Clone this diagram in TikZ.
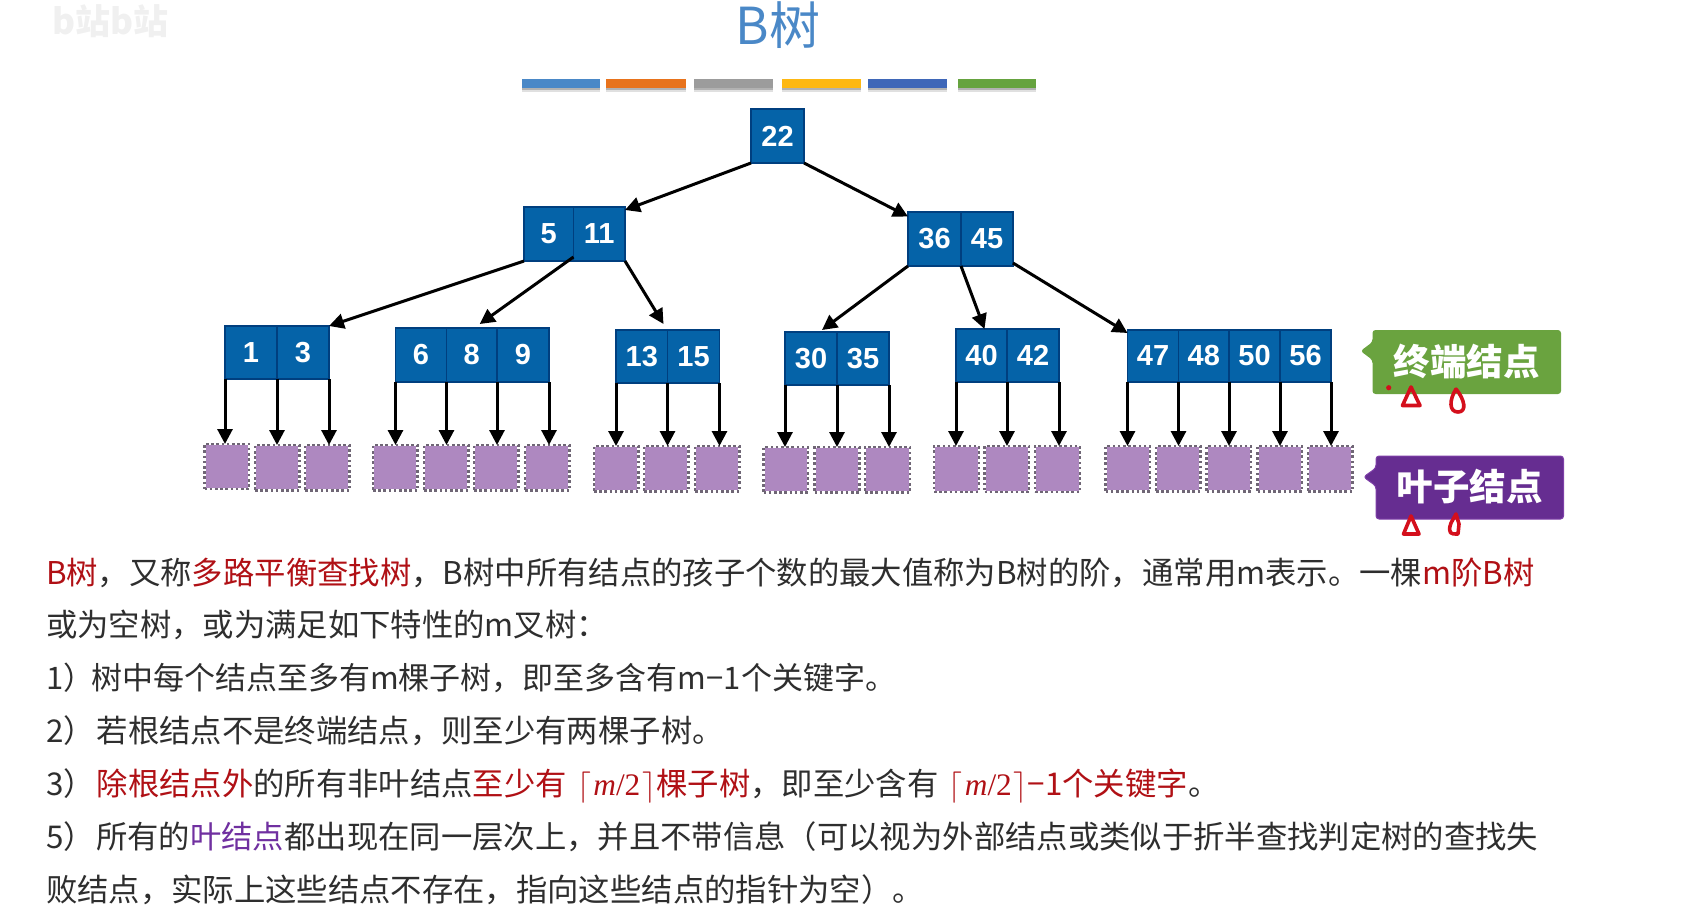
\RequirePackage{fix-cm}
\documentclass[tikz,border=0pt]{standalone}
\usepackage[no-math]{fontspec}
\usepackage{xcolor}
\usetikzlibrary{arrows.meta}
\setmainfont{Noto Sans CJK SC}
\newfontfamily\numfont{Liberation Sans}
\newfontfamily\mediumfont{Noto Sans CJK SC}
\newfontfamily\serifnum{Liberation Serif}
\definecolor{titleblue}{HTML}{4A88C7}
\definecolor{keyfill}{HTML}{0563A8}
\definecolor{keyedge}{HTML}{003F7F}
\definecolor{leaffill}{HTML}{AE88C0}
\definecolor{leafedge}{HTML}{6F6675}
\definecolor{calloutgreen}{HTML}{6AA33F}
\definecolor{calloutpurple}{HTML}{662D91}
\definecolor{calloutpurpleedge}{HTML}{7E3FA8}
\definecolor{bodyink}{HTML}{2E2E2E}
\definecolor{hired}{HTML}{B01015}
\definecolor{hipurple}{HTML}{7030A0}
\definecolor{inkred}{HTML}{D40F1C}
\definecolor{barone}{HTML}{4A88C7}
\definecolor{bartwo}{HTML}{E8731C}
\definecolor{barthree}{HTML}{9C9C9C}
\definecolor{barfour}{HTML}{FDB813}
\definecolor{barfive}{HTML}{3F67B8}
\definecolor{barsix}{HTML}{66A33F}
\tikzset{
  keycell/.style={draw=keyedge,fill=keyfill,line width=1.4pt,inner sep=0pt,outer sep=0pt,text=white,
    font=\numfont\bfseries\fontsize{29}{29}\selectfont},
  leafcell/.style={draw=leafedge,line width=2.6pt,dash pattern=on 2.6pt off 2.6pt,inner sep=0pt,outer sep=0pt},
  link/.style={draw=black,line width=3pt,-{Triangle[length=15pt,width=15pt]}},
  barcell/.style={inner sep=0pt,outer sep=0pt,minimum height=9pt,minimum width=78pt},
  calloutlabel/.style={text=white,inner sep=0pt,font=\bfseries\fontsize{36.5}{36.5}\selectfont},
  bodyline/.style={anchor=base west,inner sep=0pt,outer sep=0pt,text=bodyink,font=\fontsize{31.35}{36}\selectfont},
  inkmark/.style={draw=inkred,line width=3.6pt,line join=round,line cap=round},
}
\newcommand{\keybox}[6]{%
  \pgfmathsetmacro{\kcx}{(#2+#4)/2}\pgfmathsetmacro{\kcy}{(#3+#5)/2}%
  \pgfmathsetmacro{\kw}{#4-#2}\pgfmathsetmacro{\kh}{#5-#3}%
  \node[keycell,minimum width=\kw pt,minimum height=\kh pt] (#1) at (\kcx,\kcy) {\raisebox{-1pt}{#6}};}
\newcommand{\leafbox}[5]{%
  \pgfmathsetmacro{\kcx}{(#2+#4)/2}\pgfmathsetmacro{\kcy}{(#3+#5)/2}%
  \pgfmathsetmacro{\kw}{#4-#2}\pgfmathsetmacro{\kh}{#5-#3}%
  \fill[leaffill] (#2+1.3,#3+1.3) rectangle (#4-1.3,#5-1.3);
  \node[leafcell,minimum width=\kw pt,minimum height=\kh pt] (#1) at (\kcx,\kcy) {};}
\newcommand{\barbox}[4]{%
  \fill[black!12] (#2,81) rectangle (#3,92);
  \fill[black!30] (#2,81) rectangle (#3,90);
  \pgfmathsetmacro{\kcx}{(#2+#3)/2}\pgfmathsetmacro{\kw}{#3-#2}%
  \node[barcell,fill=#4,minimum width=\kw pt] (#1) at (\kcx,83.5) {};}
\newcommand{\ceilm}{$\lceil$\kern2pt{\serifnum\textit{m}/2}\kern2pt$\rceil$}
\newcommand{\downlink}[2]{\draw[link] (#1) -- (#1 |- #2.north);}
\begin{document}
\begin{tikzpicture}[x=1pt,y=-1pt]
\useasboundingbox (0,0) rectangle (1695,913);
% faint watermark
\node[text=black!6,anchor=west,inner sep=0pt,font=\bfseries\fontsize{35}{35}\selectfont] (mark) at (52,21) {b站b站};
% title
\node[text=titleblue,inner sep=0pt,font=\mediumfont\fontsize{51}{51}\selectfont] (title) at (778,25) {B树};
% colour bars
\barbox{bar1}{522}{600}{barone}
\barbox{bar2}{606}{686}{bartwo}
\barbox{bar3}{694}{773}{barthree}
\barbox{bar4}{782}{861}{barfour}
\barbox{bar5}{868}{947}{barfive}
\barbox{bar6}{958}{1036}{barsix}
% keys
\keybox{k22}{751}{109}{804}{163}{22}
\keybox{k5}{524}{207}{573.5}{261}{5}
\keybox{k11}{573.5}{207}{625}{261}{11}
\keybox{k36}{908}{212}{961}{266}{36}
\keybox{k45}{961}{212}{1013}{266}{45}
\keybox{k1}{225}{326}{277}{379}{1}
\keybox{k3}{277}{326}{329}{379}{3}
\keybox{k6}{395.5}{328}{446.5}{382}{6}
\keybox{k8}{446.5}{328}{497}{382}{8}
\keybox{k9}{497}{328}{549}{382}{9}
\keybox{k13}{616}{330}{667.5}{383}{13}
\keybox{k15}{667.5}{330}{719.5}{383}{15}
\keybox{k30}{785}{332}{837}{385}{30}
\keybox{k35}{837}{332}{889}{385}{35}
\keybox{k40}{956}{329}{1007}{382}{40}
\keybox{k42}{1007}{329}{1059}{382}{42}
\keybox{k47}{1127.5}{330}{1178.5}{382}{47}
\keybox{k48}{1178.5}{330}{1229}{382}{48}
\keybox{k50}{1229}{330}{1280}{382}{50}
\keybox{k56}{1280}{330}{1331}{382}{56}
% leaves
\leafbox{p1}{204.5}{444}{249}{489}
\leafbox{p2}{255}{445}{299.5}{490.5}
\leafbox{p3}{305}{445}{349.5}{490.5}
\leafbox{p4}{373}{445}{417.5}{490.5}
\leafbox{p5}{424}{445}{468.5}{490.5}
\leafbox{p6}{474}{445}{518.5}{490.5}
\leafbox{p7}{525}{445}{569.5}{490.5}
\leafbox{p8}{594}{446}{638.5}{491.5}
\leafbox{p9}{644}{446}{688.5}{491.5}
\leafbox{p10}{695}{446}{739.5}{491.5}
\leafbox{p11}{763.5}{447}{808}{492.5}
\leafbox{p12}{814.5}{447}{859.5}{492.5}
\leafbox{p13}{865}{447}{910}{492.5}
\leafbox{p14}{934}{446}{979}{492}
\leafbox{p15}{984.5}{446}{1029}{492}
\leafbox{p16}{1035}{446}{1080}{492}
\leafbox{p17}{1105.5}{446}{1150}{491.5}
\leafbox{p18}{1156}{446}{1200.5}{491.5}
\leafbox{p19}{1206.5}{446}{1251}{491.5}
\leafbox{p20}{1257.5}{446}{1302}{491.5}
\leafbox{p21}{1308}{446}{1352.5}{491.5}
% tree links
\draw[link] (k22.south west) -- ([yshift=-3pt]k11.north east);
\draw[link] (k22.south east) -- ([yshift=-4.5pt]k36.north west);
\draw[link] (k5.south west) -- (k3.north east);
\draw[link] ([yshift=4pt]k5.south east) -- ([xshift=8pt,yshift=4pt]k8.north);
\draw[link] (k11.south east) -- ([xshift=-4pt,yshift=6pt]k13.north east);
\draw[link] (k36.south west) -- ([xshift=-15pt,yshift=2pt]k35.north west);
\draw[link] (k36.south east) -- ([xshift=3pt]k40.north);
\draw[link] ([yshift=3pt]k45.south east) -- ([yshift=-3pt]k47.north west);
% leaf links
\downlink{k1.south west}{p1}
\downlink{k1.south east}{p2}
\downlink{k3.south east}{p3}
\downlink{k6.south west}{p4}
\downlink{k6.south east}{p5}
\downlink{k8.south east}{p6}
\downlink{k9.south east}{p7}
\downlink{k13.south west}{p8}
\downlink{k13.south east}{p9}
\downlink{k15.south east}{p10}
\downlink{k30.south west}{p11}
\downlink{k30.south east}{p12}
\downlink{k35.south east}{p13}
\downlink{k40.south west}{p14}
\downlink{k40.south east}{p15}
\downlink{k42.south east}{p16}
\downlink{k47.south west}{p17}
\downlink{k47.south east}{p18}
\downlink{k48.south east}{p19}
\downlink{k50.south east}{p20}
\downlink{k56.south east}{p21}
% callouts
\fill[calloutgreen,rounded corners=3pt] (1372.5,330) -- (1561,330) -- (1561,394) -- (1372.5,394) -- (1372.5,360) -- (1360.5,351) -- (1372.5,342) -- cycle;
\node[calloutlabel] (endlabel) at (1466.5,362) {终端结点};
\draw[calloutpurpleedge,fill=calloutpurple,line width=1pt,rounded corners=3pt] (1376,456) -- (1563.5,456) -- (1563.5,519) -- (1376,519) -- (1376,486) -- (1363.5,477) -- (1376,468) -- cycle;
\node[calloutlabel] (leaflabel) at (1469.5,487) {叶子结点};
% red pen marks
\fill[inkred] (1388.7,387.7) circle (2.6);
\draw[inkmark] (1411,387) -- (1402.5,405.5) -- (1420,405.5) -- cycle;
\draw[inkmark] (1456,389) .. controls (1449,400) and (1449,412) .. (1458,412) .. controls (1467,412) and (1465,400) .. (1456,389);
\draw[inkmark] (1411,516) -- (1403.5,534) -- (1419,534) -- cycle;
\draw[inkmark] (1456,514) -- (1451,523) .. controls (1447,534) and (1452,534) .. (1456,534) -- (1458,534) -- (1459,524) -- cycle;
% body text
\node[bodyline] (l1) at (46,584) {\textcolor{hired}{B树}，又称\textcolor{hired}{多路平衡查找树}，B树中所有结点的孩子个数的最大值称为B树的阶，通常用m表示。一棵\textcolor{hired}{m阶B树}};
\node[bodyline] (l2) at (46,636) {或为空树，或为满足如下特性的m叉树：};
\node[bodyline,font=\fontsize{31.0}{36}\selectfont] (l3) at (46,689) {1）\kern-3pt 树中每个结点至多有m棵子树，即至多含有m−1个关键字。};
\node[bodyline] (l4) at (46,742) {2）\kern2pt 若根结点不是终端结点，则至少有两棵子树。};
\node[bodyline] (l5) at (46,795) {3）\kern2pt\textcolor{hired}{除根结点外}的所有非叶结点\textcolor{hired}{至少有\,\,\ceilm 棵子树}，即至少含有\,\,\textcolor{hired}{\ceilm−1个关键字}。};
\node[bodyline] (l6) at (46,848) {5）\kern1.5pt 所有的\textcolor{hipurple}{叶结点}都出现在同一层次上，并且不带信息（可以视为外部结点或类似于折半查找判定树的查找失};
\node[bodyline] (l7) at (46,901) {败结点，实际上这些结点不存在，指向这些结点的指针为空）。};
\end{tikzpicture}
\end{document}
